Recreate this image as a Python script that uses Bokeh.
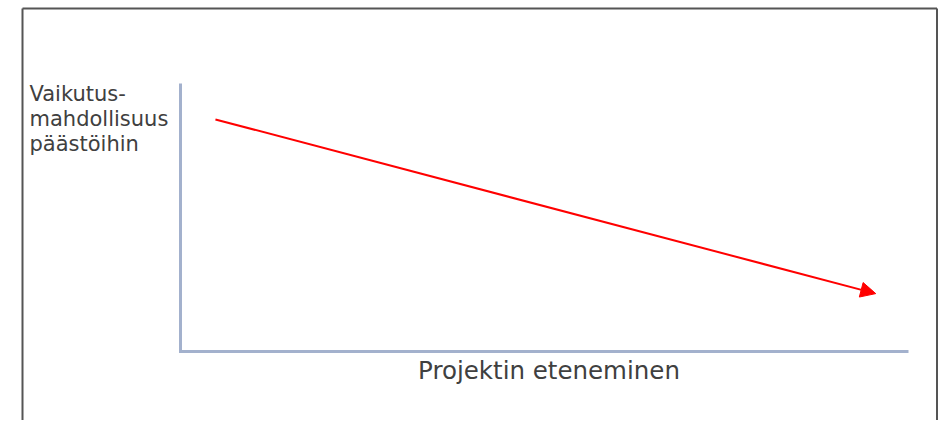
from bokeh.plotting import figure
from bokeh.models import Range1d, Arrow, NormalHead, Label, ColumnDataSource
from bokeh.embed import file_html
from bokeh.resources import INLINE

# Conceptual data: project progress (x) vs. possibility to influence emissions (y), both 0..1
progress = [0.048, 0.955]
influence = [0.866, 0.216]
y_label_lines = ["Vaikutus-", "mahdollisuus", "päästöihin"]
x_label = "Projektin eteneminen"

W, H = 940, 420
# axis frame in canvas pixels
X0, X1 = 180, 908   # x=0 and x=1
Y0, Y1 = 351, 83    # y=0 and y=1 (from top)
sx = (X1 - X0)
sy = (Y0 - Y1)

p = figure(width=W, height=H, output_backend="svg", toolbar_location=None,
           x_range=Range1d(-X0 / sx, (W - X0) / sx),
           y_range=Range1d((Y0 - H) / sy, Y0 / sy),
           min_border=0, min_border_left=0, min_border_right=0,
           min_border_top=0, min_border_bottom=0)
p.axis.visible = False
p.grid.visible = False
p.outline_line_color = None
p.background_fill_color = "white"
p.border_fill_color = "white"

def dx(px):
    return (px - X0) / sx

def dy(py):
    return (Y0 - py) / sy

# outer frame (left, top, right; bottom is outside view)
frame_col = "#555555"
p.line([dx(22), dx(22)], [dy(H + 10), dy(8)], line_color=frame_col, line_width=2)
p.line([dx(22), dx(936.5)], [dy(8), dy(8)], line_color=frame_col, line_width=2)
p.line([dx(936.5), dx(936.5)], [dy(8), dy(H + 10)], line_color=frame_col, line_width=2)

# axes
axis_col = "#a3b1cd"
p.line([0, 0, 1], [1, 0, 0], line_color=axis_col, line_width=3, line_join="miter")

# arrow
src = ColumnDataSource(dict(x0=[progress[0]], y0=[influence[0]], x1=[progress[1]], y1=[influence[1]]))
p.add_layout(Arrow(source=src, x_start="x0", y_start="y0", x_end="x1", y_end="y1",
                   line_color="#ff0000", line_width=2,
                   end=NormalHead(size=15, fill_color="#ff0000", line_color="#ff0000", line_width=1)))

# y label (multi-line)
for i, t in enumerate(y_label_lines):
    p.add_layout(Label(x=dx(29), y=dy(93), y_offset=-25 * i, text=t,
                       text_font="DejaVu Sans", text_font_size="21px",
                       text_color="#404040", text_baseline="alphabetic", text_align="left"))

# x label
p.add_layout(Label(x=dx(548.5), y=dy(370), text=x_label,
                   text_font="DejaVu Sans", text_font_size="24.5px",
                   text_color="#404040", text_baseline="alphabetic", text_align="center"))

open("out.html", "w").write(file_html(p, INLINE))
